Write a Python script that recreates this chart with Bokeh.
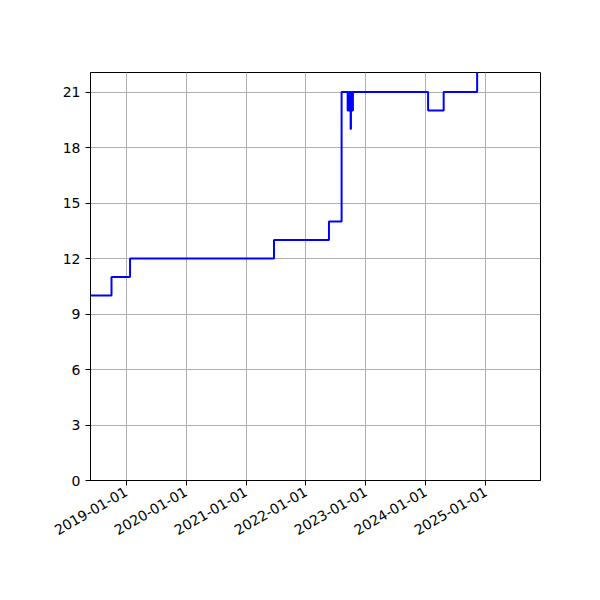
from datetime import datetime
from math import pi

from bokeh.plotting import figure
from bokeh.models import FixedTicker, DatetimeTickFormatter, Range1d
from bokeh.embed import file_html
from bokeh.resources import INLINE

# step changes
dates = ["2018-05-01", "2018-10-04", "2019-01-25", "2021-06-20", "2022-05-21",
         "2022-08-06", "2022-09-12", "2022-09-15", "2022-09-18", "2022-09-21",
         "2022-09-24", "2022-09-27", "2022-09-30", "2022-10-02", "2022-10-05",
         "2022-10-08", "2022-10-11", "2022-10-14", "2024-01-15", "2024-04-19",
         "2024-11-09", "2025-11-30"]
values = [10, 11, 12, 13, 14,
          21, 20, 21, 20, 21,
          20, 21, 19, 21, 20,
          21, 20, 21, 20, 21,
          23, 23]

tick_years = [2019, 2020, 2021, 2022, 2023, 2024, 2025]
y_ticks = [0, 3, 6, 9, 12, 15, 18, 21]

x = [datetime.strptime(d, "%Y-%m-%d") for d in dates]

def ms(dt):
    return (dt - datetime(1970, 1, 1)).total_seconds() * 1000

p = figure(width=584, height=584, x_axis_type="datetime",
           output_backend="svg", toolbar_location=None,
           frame_width=450, frame_height=408,
           min_border_left=90, min_border_right=44,
           min_border_top=72, min_border_bottom=104)
p.x_range = Range1d(datetime(2018, 5, 29), datetime(2025, 11, 30))
p.y_range = Range1d(0, 22.06)

p.step(x, values, mode="after", line_color="#0000ff", line_width=2)

# axes in matplotlib style
p.xaxis.ticker = FixedTicker(ticks=[ms(datetime(yr, 1, 1)) for yr in tick_years])
p.xaxis.formatter = DatetimeTickFormatter(days="%Y-%m-%d", months="%Y-%m-%d",
                                          years="%Y-%m-%d")
p.xaxis.major_label_orientation = pi / 6
p.yaxis.ticker = FixedTicker(ticks=y_ticks)

for ax in [p.xaxis, p.yaxis]:
    ax.major_label_text_font = "DejaVu Sans"
    ax.major_label_text_font_size = "14px"
    ax.major_label_text_color = "black"
    ax.axis_line_color = "black"
    ax.major_tick_line_color = "black"
    ax.major_tick_in = 0
    ax.major_tick_out = 5
    ax.minor_tick_line_color = None

p.grid.grid_line_color = "#b0b0b0"
p.grid.grid_line_width = 1
p.outline_line_color = "black"
p.outline_line_alpha = 1

open("out.html", "w").write(file_html(p, INLINE))
